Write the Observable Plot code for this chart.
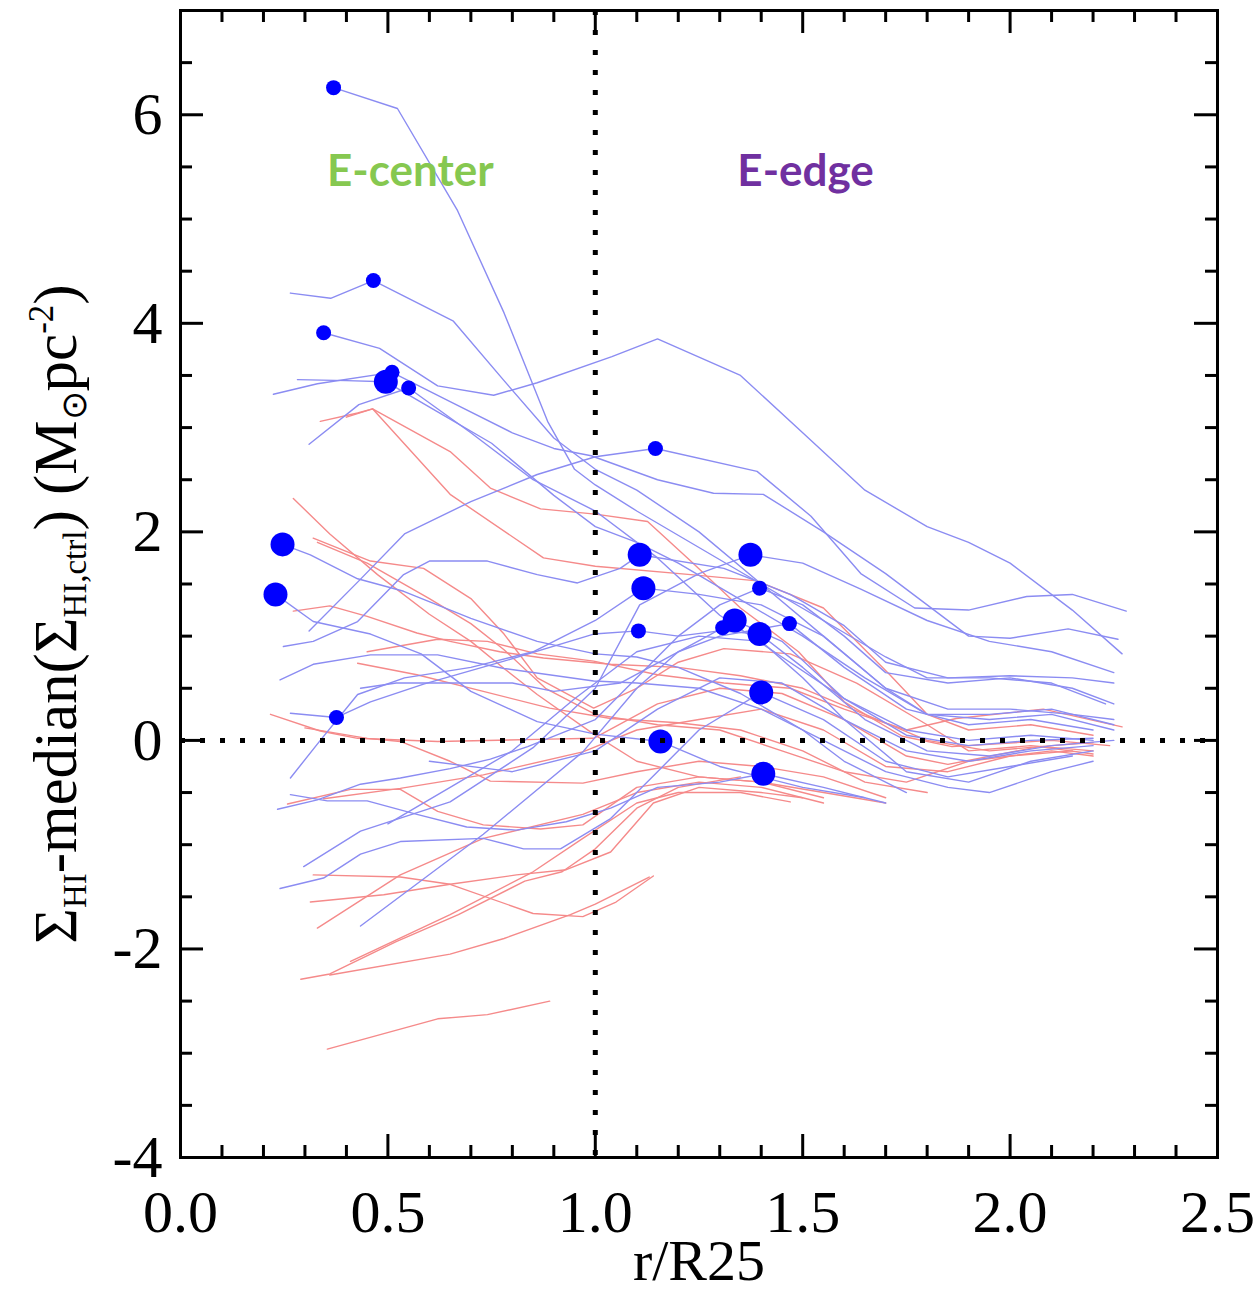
<!DOCTYPE html>
<html><head><meta charset="utf-8">
<script src="https://cdn.jsdelivr.net/npm/d3@7"></script>
<script src="https://cdn.jsdelivr.net/npm/@observablehq/plot@0.6"></script>
<style>body{margin:0;background:#fff}</style>
</head><body><div id="chart"></div>
<script>
// ---- Data (r/R25, Sigma_HI - median) ----
const blueLines = [
  [[0.369,6.26],[0.523,6.06],[0.668,5.08],[0.78,4.1],[0.885,3.06],[0.95,2.6],[1.0,2.45],[1.1,2.2],[1.25,1.85],[1.4,1.5],[1.55,1.15],[1.7,0.8],[1.8,0.6],[1.95,0.6],[2.1,0.55],[2.23,0.35]],
  [[0.265,4.29],[0.362,4.24],[0.465,4.41],[0.658,4.02],[0.78,3.45],[0.9,2.9],[1.0,2.6],[1.1,2.4],[1.25,2.0],[1.4,1.5],[1.55,1.0],[1.7,0.5],[1.8,0.25],[1.95,0.25],[2.1,0.3],[2.25,0.15]],
  [[0.345,3.91],[0.48,3.76],[0.62,3.4],[0.755,3.31],[0.86,3.43],[1.04,3.68],[1.15,3.85],[1.35,3.5],[1.5,2.95],[1.65,2.4],[1.8,2.05],[1.9,1.9],[2.0,1.7],[2.15,1.25],[2.27,0.83]],
  [[0.282,3.46],[0.4,3.45],[0.495,3.44],[0.62,3.15],[0.75,2.85],[0.9,2.35],[1.0,2.05],[1.1,1.9],[1.2,1.7],[1.35,1.35],[1.5,1.0],[1.65,0.6],[1.8,0.25],[1.95,0.2],[2.1,0.25],[2.25,0.1]],
  [[0.224,3.32],[0.33,3.42],[0.51,3.53],[0.65,3.25],[0.8,2.95],[0.9,2.8],[0.99,2.73],[1.15,2.5],[1.285,2.37],[1.405,2.36],[1.55,2.0],[1.7,1.6],[1.8,1.3],[1.9,1.0],[2.0,0.98],[2.14,1.07],[2.26,0.97]],
  [[0.31,2.84],[0.43,3.22],[0.55,3.38],[0.7,2.95],[0.85,2.5],[1.0,2.2],[1.15,1.75],[1.3,1.2],[1.45,0.8],[1.6,0.4],[1.75,0.1],[1.9,0.0],[2.05,0.05],[2.2,0.0]],
  [[0.31,1.05],[0.43,1.53],[0.54,1.98],[0.7,2.29],[0.86,2.55],[1.0,2.72],[1.145,2.80],[1.39,2.58],[1.52,2.15],[1.64,1.6],[1.77,1.27],[1.9,1.25],[2.04,1.38],[2.15,1.40],[2.28,1.24]],
  [[0.246,1.88],[0.313,1.78],[0.427,1.55],[0.538,1.43],[0.7,1.17],[0.86,0.95],[1.0,0.83],[1.1,0.8],[1.2,0.7],[1.35,0.45],[1.5,0.1],[1.6,-0.2],[1.75,-0.5]],
  [[0.229,1.40],[0.32,1.14],[0.458,1.02],[0.58,0.83],[0.7,0.47],[0.86,0.18],[1.0,0.06],[1.157,-0.01],[1.3,-0.25],[1.5,-0.45],[1.65,-0.55]],
  [[0.248,0.90],[0.32,0.95],[0.427,1.14],[0.538,1.59],[0.6,1.72],[0.74,1.72],[0.86,1.59],[0.957,1.51],[1.06,1.65],[1.107,1.78],[1.31,1.65],[1.47,1.4],[1.6,1.1],[1.7,0.75],[1.85,0.6],[2.0,0.62],[2.15,0.6],[2.25,0.55]],
  [[0.24,0.58],[0.32,0.73],[0.458,0.82],[0.62,0.82],[0.78,0.69],[0.996,0.57],[1.1,0.55],[1.25,0.5],[1.4,0.3],[1.55,0.0],[1.7,-0.3],[1.85,-0.45],[1.95,-0.5],[2.1,-0.3],[2.2,-0.2]],
  [[0.434,0.5],[0.52,0.55],[0.65,0.55],[0.8,0.55],[0.9,0.47],[1.06,0.55],[1.2,0.85],[1.307,1.08],[1.336,1.15],[1.45,0.95],[1.6,0.4],[1.75,0.05],[1.9,-0.05],[2.05,0.0],[2.2,0.02]],
  [[0.265,0.26],[0.376,0.22],[0.458,0.37],[0.586,0.54],[0.78,0.76],[0.996,1.02],[1.104,1.05],[1.2,1.0],[1.3,1.05],[1.396,1.02],[1.5,0.7],[1.65,0.2],[1.8,-0.1],[1.95,-0.15],[2.1,-0.05],[2.25,0.0]],
  [[0.434,-1.78],[0.73,-0.9],[0.97,-0.11],[1.1,0.5],[1.2,0.85],[1.3,1.0],[1.468,1.12],[1.6,0.7],[1.75,0.3],[1.9,0.15],[2.05,0.2],[2.2,0.1]],
  [[0.297,-1.21],[0.434,-0.87],[0.65,-0.59],[0.85,-0.07],[1.0,0.5],[1.107,1.3],[1.25,1.6],[1.374,1.78],[1.5,1.7],[1.64,1.45],[1.8,1.15],[1.95,0.95],[2.1,0.85],[2.25,0.65]],
  [[0.24,-1.42],[0.345,-1.32],[0.434,-1.09],[0.53,-0.97],[0.73,-0.94],[0.827,-1.04],[0.916,-1.04],[1.037,-0.75],[1.15,-0.3],[1.25,0.1],[1.40,0.46],[1.55,0.2],[1.7,-0.2],[1.85,-0.35],[2.0,-0.25],[2.15,-0.15]],
  [[0.234,-0.66],[0.33,-0.57],[0.434,-0.42],[0.53,-0.36],[0.65,-0.27],[0.747,-0.18],[0.837,-0.06],[1.0,0.2],[1.1,0.6],[1.2,1.0],[1.3,1.3],[1.396,1.46],[1.5,1.3],[1.6,1.0],[1.7,0.65],[1.85,0.55],[2.0,0.6],[2.15,0.5],[2.25,0.35]],
  [[0.265,-0.52],[0.354,-0.58],[0.45,-0.58],[0.57,-0.71],[0.69,-0.83],[0.81,-0.86],[0.93,-0.78],[1.037,-0.65],[1.15,-0.45],[1.3,-0.4],[1.405,-0.32],[1.55,-0.45],[1.7,-0.6]],
  [[0.265,-0.36],[0.337,0.0],[0.427,0.44],[0.54,0.6],[0.7,0.7],[0.85,0.85],[1.0,1.15],[1.116,1.46],[1.25,1.4],[1.4,1.3],[1.55,1.0],[1.7,0.5],[1.85,0.3],[2.0,0.3],[2.15,0.25],[2.25,0.2]],
  [[0.5,-0.8],[0.65,-0.45],[0.8,-0.1],[0.95,0.4],[1.1,0.85],[1.25,1.0],[1.4,0.95],[1.5,0.6],[1.6,0.2],[1.75,-0.1],[1.9,-0.2],[2.05,-0.1],[2.2,-0.05]],
  [[0.6,-0.2],[0.8,-0.3],[1.0,-0.1],[1.15,0.3],[1.3,0.6],[1.45,0.55],[1.6,0.2],[1.75,-0.3],[1.9,-0.4],[2.05,-0.2],[2.2,-0.1]]
];
const redLines = [
  [[0.337,3.06],[0.427,3.14],[0.463,3.18],[0.65,2.77],[0.747,2.42],[0.868,2.22],[1.0,2.17],[1.126,2.1],[1.23,1.72],[1.35,1.27],[1.49,0.85],[1.6,0.37],[1.74,0.04],[1.86,-0.06],[2.1,0.0],[2.24,-0.05]],
  [[0.4,3.1],[0.463,3.18],[0.65,2.36],[0.875,1.75],[1.0,1.67],[1.23,1.59],[1.39,1.53],[1.55,1.27],[1.71,0.63],[1.8,0.25],[1.9,0.1],[2.05,0.15],[2.2,0.05]],
  [[0.272,2.32],[0.36,1.98],[0.475,1.59],[0.6,1.21],[0.7,0.95],[0.78,0.69],[0.86,0.44],[0.996,0.06],[1.1,-0.2],[1.25,-0.35],[1.4,-0.4],[1.55,-0.5],[1.7,-0.6]],
  [[0.32,1.94],[0.458,1.72],[0.586,1.65],[0.7,1.36],[0.78,1.02],[0.86,0.6],[0.996,0.31],[1.1,0.5],[1.2,0.75],[1.31,0.88],[1.47,0.83],[1.63,0.55],[1.8,0.15],[1.9,-0.1],[2.05,-0.05],[2.2,-0.1]],
  [[0.33,1.9],[0.45,1.7],[0.6,1.36],[0.7,1.12],[0.78,0.87],[0.88,0.5],[1.0,0.25],[1.15,0.15],[1.3,0.1],[1.45,-0.1],[1.6,-0.3],[1.75,-0.4],[1.9,-0.2],[2.1,-0.1],[2.2,-0.15]],
  [[0.272,1.24],[0.36,1.29],[0.45,1.19],[0.57,1.03],[0.65,0.95],[0.77,0.85],[0.875,0.79],[1.037,0.73],[1.2,0.7],[1.35,0.62],[1.5,0.5],[1.65,0.25],[1.8,0.0],[1.95,-0.1],[2.1,-0.05],[2.2,-0.02]],
  [[0.45,0.85],[0.62,0.97],[0.74,0.95],[0.86,0.83],[0.996,0.76],[1.15,0.63],[1.31,0.55],[1.47,0.5],[1.6,0.3],[1.75,0.1],[1.87,0.21],[2.08,0.3],[2.27,0.13]],
  [[0.427,0.74],[0.57,0.63],[0.73,0.47],[0.89,0.31],[1.037,0.21],[1.2,0.17],[1.35,0.1],[1.5,-0.1],[1.65,-0.4],[1.8,-0.5]],
  [[0.217,0.25],[0.337,0.09],[0.427,0.02],[0.62,-0.01],[0.86,0.01],[0.996,0.02],[1.15,0.35],[1.3,0.5],[1.45,0.45],[1.6,0.2],[1.75,-0.15],[1.85,-0.23],[2.07,-0.06],[2.2,-0.13]],
  [[0.258,-0.61],[0.41,-0.47],[0.53,-0.47],[0.62,-0.68],[0.73,-0.81],[0.868,-0.85],[0.97,-0.81],[1.1,-0.45],[1.25,-0.35],[1.4,-0.4],[1.55,-0.55]],
  [[0.345,-0.56],[0.53,-0.46],[0.73,-0.33],[0.97,-0.11],[1.1,0.1],[1.25,0.2],[1.4,0.3],[1.55,0.1],[1.7,-0.25],[1.85,-0.3],[2.0,-0.15],[2.15,-0.1]],
  [[0.3,0.12],[0.45,0.02],[0.53,-0.01],[0.65,-0.2],[0.747,-0.39],[0.97,-0.41],[1.1,-0.3],[1.25,-0.2],[1.4,-0.25],[1.55,-0.35],[1.7,-0.55]],
  [[0.32,-1.29],[0.53,-1.31],[0.65,-1.38],[0.85,-1.66],[0.97,-1.69],[1.05,-1.55],[1.14,-1.3]],
  [[0.313,-1.55],[0.49,-1.48],[0.65,-1.38],[0.81,-1.29],[0.93,-1.24],[1.037,-1.07],[1.14,-0.6],[1.25,-0.45],[1.4,-0.5],[1.5,-0.55]],
  [[0.33,-1.8],[0.53,-1.29],[0.73,-0.94],[0.97,-0.71],[1.1,-0.5],[1.25,-0.4],[1.4,-0.45],[1.55,-0.6]],
  [[0.41,-2.12],[0.65,-1.67],[0.85,-1.26],[0.97,-0.94],[1.1,-0.6],[1.2,-0.5],[1.35,-0.5],[1.47,-0.59]],
  [[0.29,-2.29],[0.36,-2.24],[0.52,-1.93],[0.67,-1.67],[0.83,-1.35],[0.92,-1.26],[1.0,-1.04],[1.1,-0.65],[1.2,-0.45],[1.35,-0.35]],
  [[0.36,-2.25],[0.65,-2.05],[0.78,-1.9],[0.94,-1.67],[1.0,-1.57],[1.13,-1.31]],
  [[0.354,-2.96],[0.62,-2.67],[0.74,-2.63],[0.89,-2.5]]
];
const smallMarkers = [[0.369,6.26],[0.465,4.41],[0.345,3.91],[0.51,3.53],[0.55,3.38],[0.376,0.22],[1.145,2.80],[1.104,1.05],[1.396,1.46],[1.307,1.08],[1.468,1.12]];
const bigMarkers = [[0.246,1.88],[0.229,1.40],[0.495,3.44],[1.107,1.78],[1.116,1.46],[1.157,-0.01],[1.374,1.78],[1.336,1.15],[1.396,1.02],[1.40,0.46],[1.405,-0.32]];
const xMajorTicks = [0, 0.5, 1.0, 1.5, 2.0, 2.5];
const xMinorTicks = [0.1,0.2,0.3,0.4,0.6,0.7,0.8,0.9,1.1,1.2,1.3,1.4,1.6,1.7,1.8,1.9,2.1,2.2,2.3,2.4];
const yMajorTicks = [-4, -2, 0, 2, 4, 6];
const yMinorTicks = [-3.5,-3,-2.5,-1.5,-1,-0.5,0.5,1,1.5,2.5,3,3.5,4.5,5,5.5,6.5,7];
const regionNames = ["E-center", "E-edge"];
const regionX = [0.554, 1.507];
const regionY = [5.45, 5.45];
const xLabel = "r/R25";

// ---- Build tables ----
const toRows = (lines, group) => lines.flatMap((pts, i) => pts.map(([x, y]) => ({x, y, id: group + i})));
const blueRows = toRows(blueLines, "b");
const redRows = toRows(redLines, "r");
const regions = regionNames.map((t, i) => ({text: t, x: regionX[i], y: regionY[i]}));

const W = 1254, H = 1300, ML = 180, MR = 37, MT = 10, MB = 143;
const FW = W - ML - MR, FH = H - MT - MB;
const major = 23, minor = 12;
const serif = "Liberation Serif, Times New Roman, serif";

const plot = Plot.plot({
  width: W, height: H,
  marginLeft: ML, marginRight: MR, marginTop: MT, marginBottom: MB,
  x: {domain: [0, 2.5]},
  y: {domain: [-4, 7]},
  style: {fontFamily: serif, background: "#fff", color: "#000"},
  marks: [
    Plot.line(redRows, {x: "x", y: "y", z: "id", stroke: "#f58a8a", strokeWidth: 1.4, curve: "linear"}),
    Plot.line(blueRows, {x: "x", y: "y", z: "id", stroke: "#8b8cf2", strokeWidth: 1.4, curve: "linear"}),
    Plot.dot(smallMarkers, {x: d => d[0], y: d => d[1], r: 7.5, fill: "#0000ff", stroke: "none"}),
    Plot.dot(bigMarkers, {x: d => d[0], y: d => d[1], r: 12, fill: "#0000ff", stroke: "none"}),
    Plot.ruleX([1], {stroke: "#000", strokeWidth: 5, strokeDasharray: "5,15"}),
    Plot.ruleY([0], {stroke: "#000", strokeWidth: 5, strokeDasharray: "5,15"}),
    // ticks inside the frame
    Plot.tickX(xMajorTicks, {x: d => d, insetTop: FH - major, stroke: "#000", strokeWidth: 3}),
    Plot.tickX(xMajorTicks, {x: d => d, insetBottom: FH - major, stroke: "#000", strokeWidth: 3}),
    Plot.tickX(xMinorTicks, {x: d => d, insetTop: FH - minor, stroke: "#000", strokeWidth: 3}),
    Plot.tickX(xMinorTicks, {x: d => d, insetBottom: FH - minor, stroke: "#000", strokeWidth: 3}),
    Plot.tickY(yMajorTicks, {y: d => d, insetRight: FW - major, stroke: "#000", strokeWidth: 3}),
    Plot.tickY(yMajorTicks, {y: d => d, insetLeft: FW - major, stroke: "#000", strokeWidth: 3}),
    Plot.tickY(yMinorTicks, {y: d => d, insetRight: FW - minor, stroke: "#000", strokeWidth: 3}),
    Plot.tickY(yMinorTicks, {y: d => d, insetLeft: FW - minor, stroke: "#000", strokeWidth: 3}),
    Plot.frame({stroke: "#000", strokeWidth: 3}),
    Plot.axisX({ticks: xMajorTicks, tickSize: 0, tickPadding: 32, tickFormat: d => d.toFixed(1), fontSize: 60, fontFamily: serif, label: null}),
    Plot.axisY({ticks: yMajorTicks, tickSize: 0, tickPadding: 18, tickFormat: d => String(d), fontSize: 60, fontFamily: serif, label: null}),
    Plot.text([xLabel], {text: d => d, frameAnchor: "bottom", dy: 122, fontSize: 58, fontFamily: serif, fill: "#000"}),
    Plot.text(regions.slice(0, 1), {x: "x", y: "y", text: "text", fill: "#86c850", fontSize: 44, fontWeight: "bold", fontFamily: "Lato, Open Sans, sans-serif"}),
    Plot.text(regions.slice(1), {x: "x", y: "y", text: "text", fill: "#7030a0", fontSize: 44, fontWeight: "bold", fontFamily: "Lato, Open Sans, sans-serif"})
  ]
});

// y-axis title with sub/superscripts
const svg = d3.select(plot);
const t = svg.append("text")
  .attr("transform", "translate(76,614) rotate(-90)")
  .attr("text-anchor", "middle")
  .attr("font-family", serif)
  .attr("font-size", 61)
  .attr("fill", "#000");
t.append("tspan").text("Σ");
t.append("tspan").attr("font-size", 33).attr("dy", 10).text("HI");
t.append("tspan").attr("dy", -10).text("-median(Σ");
t.append("tspan").attr("font-size", 33).attr("dy", 10).text("HI,ctrl");
t.append("tspan").attr("dy", -10).text(") (M");
t.append("tspan").attr("font-size", 35).attr("dy", 10).text("⊙");
t.append("tspan").attr("dy", -10).text("pc");
t.append("tspan").attr("font-size", 35).attr("dy", -23).text("-2");
t.append("tspan").attr("dy", 23).text(")");

document.getElementById("chart").appendChild(plot);
</script>
</body></html>
